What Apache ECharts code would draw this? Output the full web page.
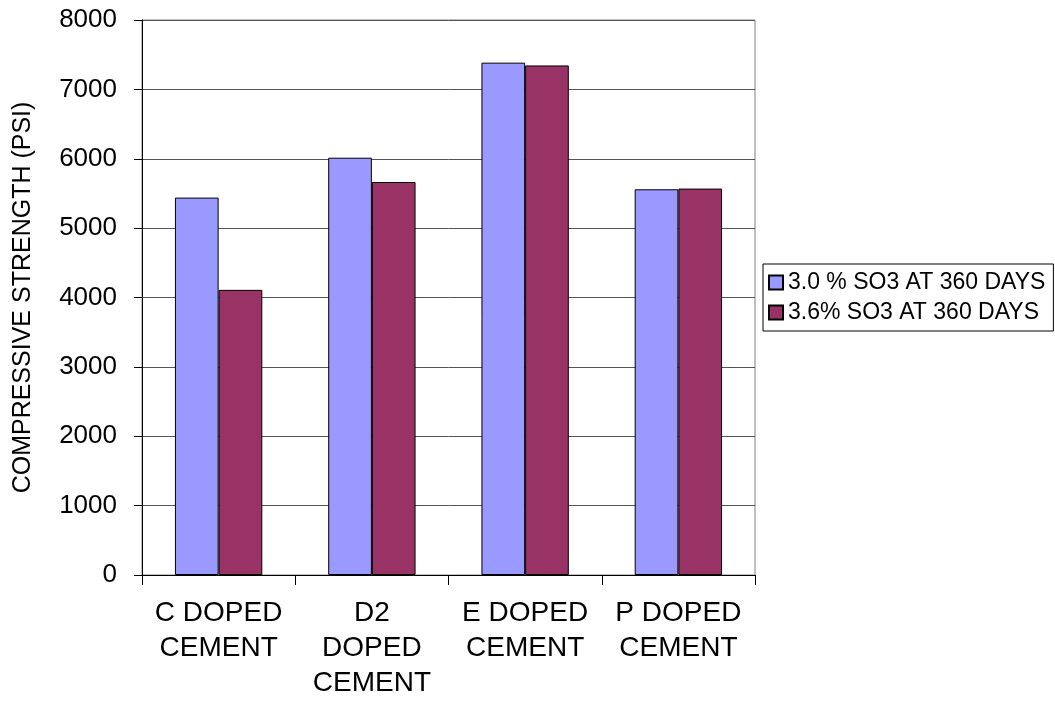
<!DOCTYPE html>
<html>
<head>
<meta charset="utf-8">
<script src="https://cdn.jsdelivr.net/npm/echarts@6/dist/echarts.min.js"></script>
<style>
html,body{margin:0;padding:0;background:#fff;}
#chart{width:1055px;height:702px;}
</style>
</head>
<body>
<div id="chart"></div>
<script>
const categories = ['C DOPED\nCEMENT', 'D2\nDOPED\nCEMENT', 'E DOPED\nCEMENT', 'P DOPED\nCEMENT'];
const seriesNames = ['3.0 % SO3 AT 360 DAYS', '3.6% SO3 AT 360 DAYS'];
const so3_30 = [5440, 6015, 7385, 5560];
const so3_36 = [4110, 5665, 7345, 5570];
const yTicks = { min: 0, max: 8000, interval: 1000 };
const colors = ['#9999FF', '#993366'];

const chart = echarts.init(document.getElementById('chart'), null, { renderer: 'canvas' });
const font = 'Liberation Sans, Arial, sans-serif';
chart.setOption({
  animation: false,
  backgroundColor: '#ffffff',
  textStyle: { fontFamily: font, color: '#000' },
  grid: { left: 142, right: 300, top: 20, bottom: 127, show: true, borderColor: '#808080', borderWidth: 1 },
  legend: {
    orient: 'vertical',
    left: 763, top: 264,
    padding: [7, 8, 7, 5],
    itemWidth: 14, itemHeight: 14, itemGap: 7,
    borderColor: '#000', borderWidth: 1,
    icon: 'rect',
    textStyle: { fontSize: 23, color: '#000', fontFamily: font },
    data: seriesNames
  },
  xAxis: {
    type: 'category',
    data: categories,
    axisLine: { lineStyle: { color: '#000', width: 1 } },
    axisTick: { show: true, length: 10, lineStyle: { color: '#000' } },
    axisLabel: { fontSize: 28, lineHeight: 35, color: '#000', margin: 21, interval: 0, fontFamily: font }
  },
  yAxis: {
    type: 'value',
    min: yTicks.min, max: yTicks.max, interval: yTicks.interval,
    name: 'COMPRESSIVE STRENGTH (PSI)',
    nameLocation: 'middle',
    nameGap: 106,
    nameTextStyle: { fontSize: 25, color: '#000', fontFamily: font },
    axisLine: { show: true, lineStyle: { color: '#000', width: 1 } },
    axisTick: { show: true, length: 8, lineStyle: { color: '#000' } },
    axisLabel: { fontSize: 26, color: '#000', margin: 25, fontFamily: font, formatter: v => String(v) },
    splitLine: { lineStyle: { color: '#555', width: 1 } }
  },
  series: [
    { name: seriesNames[0], type: 'bar', data: so3_30, barGap: '0%', barCategoryGap: '43%',
      itemStyle: { color: colors[0], borderColor: '#000', borderWidth: 1 } },
    { name: seriesNames[1], type: 'bar', data: so3_36, barGap: '0%', barCategoryGap: '43%',
      itemStyle: { color: colors[1], borderColor: '#000', borderWidth: 1 } }
  ]
});
</script>
</body>
</html>
